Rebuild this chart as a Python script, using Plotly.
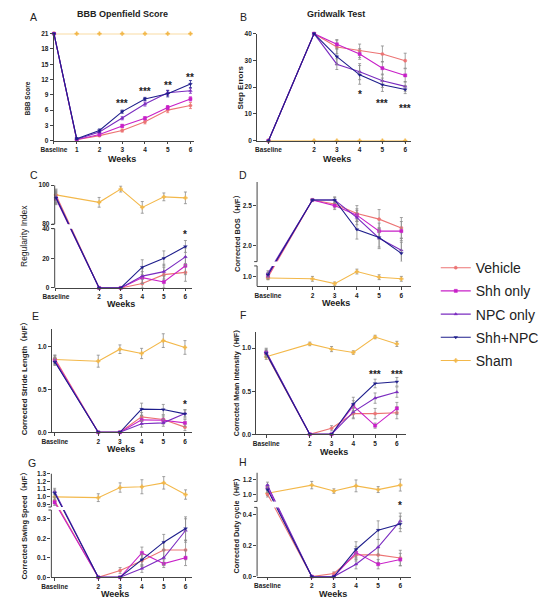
import plotly.graph_objects as go
import numpy as np

W, H = 550, 604

groups = ["Vehicle", "Shh only", "NPC only", "Shh+NPC", "Sham"]
colors = ["#EC7474", "#C820C8", "#7B2CC0", "#1E1E8C", "#F3B84A"]
symbols = ["circle", "square", "triangle-up", "triangle-down", "cross"]

weeks_A = [0, 1, 2, 3, 4, 5, 6]
ticks_A = ["Baseline", "1", "2", "3", "4", "5", "6"]
weeks = [0, 2, 3, 4, 5, 6]
ticks_w = ["Baseline", "2", "3", "4", "5", "6"]

# ---- A: BBB Openfield Score
A_mean = [
    [21, 0.2, 1.0, 2.0, 3.7, 6.0, 6.9],
    [21, 0.2, 1.2, 2.9, 4.4, 6.5, 8.2],
    [21, 0.3, 1.7, 4.4, 7.2, 9.4, 9.8],
    [21, 0.4, 2.0, 5.7, 8.2, 9.2, 11.1],
    [21, 21, 21, 21, 21, 21, 21],
]
A_err = [
    [0, 0.1, 0.2, 0.3, 0.4, 0.5, 0.6],
    [0, 0.1, 0.2, 0.3, 0.3, 0.4, 0.4],
    [0, 0.1, 0.2, 0.3, 0.4, 0.5, 0.5],
    [0, 0.2, 0.3, 0.3, 0.3, 0.6, 0.7],
    [0, 0, 0, 0, 0, 0, 0],
]
A_star_x = [3, 4, 5, 6]
A_star_y = [7.6, 10.1, 11.3, 12.8]
A_star_t = ["***", "***", "**", "**"]
A_yticks = [0, 3, 6, 9, 12, 15, 18, 21]

# ---- B: Gridwalk Test
B_mean = [
    [0, 40, 35.0, 33.6, 32.4, 29.9],
    [0, 40, 36.0, 32.4, 27.1, 24.4],
    [0, 40, 28.6, 25.8, 22.4, 20.3],
    [0, 40, 31.4, 24.6, 20.9, 19.1],
    [0, 0, 0, 0, 0, 0],
]
B_err = [
    [0, 0, 2.5, 2.5, 3.0, 2.8],
    [0, 0, 1.8, 2.0, 2.5, 2.5],
    [0, 0, 2.0, 3.0, 2.5, 1.8],
    [0, 0, 3.0, 3.5, 2.5, 1.5],
    [0, 0, 0, 0, 0, 0],
]
B_star_x = [4, 5, 6]
B_star_y = [18.1, 14.8, 12.9]
B_star_t = ["*", "***", "***"]
B_yticks = [0, 10, 20, 30, 40]

# ---- C: Regularity Index
C_mean = [
    [95, 0, 0, 3, 9, 10.5],
    [93, 0, 0, 7, 4, 15],
    [94, 0, 0, 8, 11, 21],
    [93.5, 0, 0, 14, 20, 28],
    [95, 91.2, 98, 88.6, 94, 93.5],
]
C_err = [
    [3, 0, 0, 3, 5, 6],
    [3, 0, 0, 4, 4, 6],
    [3, 0, 0, 5, 5, 6],
    [3, 0, 0, 5, 5, 4],
    [2.5, 2.5, 1.5, 3, 2, 3],
]
C_star_x = [6]
C_star_y = [37.7]
C_star_t = ["*"]
C_yticks = [0, 20, 40, 80, 100]

# ---- D: Corrected BOS
D_mean = [
    [0.99, 2.57, 2.52, 2.40, 2.33, 2.22],
    [1.01, 2.57, 2.50, 2.38, 2.18, 2.18],
    [1.04, 2.57, 2.57, 2.35, 2.09, 1.94],
    [1.02, 2.57, 2.57, 2.20, 2.10, 1.90],
    [0.98, 0.97, 0.91, 1.06, 0.99, 0.97],
]
D_err = [
    [0.03, 0.01, 0.05, 0.10, 0.12, 0.13],
    [0.03, 0.01, 0.05, 0.08, 0.10, 0.12],
    [0.03, 0.01, 0.04, 0.09, 0.13, 0.15],
    [0.03, 0.01, 0.03, 0.12, 0.12, 0.14],
    [0.02, 0.03, 0.02, 0.03, 0.03, 0.03],
]
D_yticks = [1.0, 2.0, 2.5]

# ---- E: Corrected Stride Length
E_mean = [
    [0.86, 0, 0, 0.18, 0.15, 0.06],
    [0.84, 0, 0, 0.145, 0.14, 0.11],
    [0.83, 0, 0, 0.10, 0.11, 0.22],
    [0.82, 0, 0, 0.27, 0.265, 0.215],
    [0.85, 0.83, 0.97, 0.92, 1.07, 0.99],
]
E_err = [
    [0.04, 0, 0, 0.05, 0.05, 0.04],
    [0.04, 0, 0, 0.05, 0.04, 0.04],
    [0.04, 0, 0, 0.04, 0.04, 0.04],
    [0.04, 0, 0, 0.07, 0.06, 0.05],
    [0.05, 0.07, 0.05, 0.06, 0.08, 0.08],
]
E_star_x = [6]
E_star_y = [0.346]
E_star_t = ["*"]
E_yticks = [0.0, 0.5, 1.0]

# ---- F: Corrected Mean Intensity
F_mean = [
    [0.93, 0, 0.07, 0.24, 0.24, 0.25],
    [0.95, 0, 0, 0.33, 0.10, 0.30],
    [0.96, 0, 0, 0.26, 0.42, 0.49],
    [0.94, 0, 0, 0.35, 0.59, 0.61],
    [0.90, 1.05, 0.99, 0.95, 1.13, 1.05],
]
F_err = [
    [0.04, 0, 0.03, 0.06, 0.06, 0.07],
    [0.04, 0, 0, 0.06, 0.03, 0.07],
    [0.04, 0, 0, 0.07, 0.06, 0.06],
    [0.04, 0, 0, 0.08, 0.05, 0.05],
    [0.03, 0.02, 0.03, 0.02, 0.02, 0.03],
]
F_star_x = [5, 6]
F_star_y = [0.72, 0.72]
F_star_t = ["***", "***"]
F_yticks = [0.0, 0.5, 1.0]

# ---- G: Corrected Swing Speed
G_mean = [
    [0.95, 0, 0.035, 0.085, 0.14, 0.14],
    [0.93, 0, 0, 0.125, 0.07, 0.10],
    [1.07, 0, 0, 0.045, 0.10, 0.24],
    [1.05, 0, 0, 0.09, 0.18, 0.25],
    [1.00, 0.99, 1.12, 1.13, 1.18, 1.03],
]
G_err = [
    [0.04, 0, 0.015, 0.03, 0.04, 0.05],
    [0.04, 0, 0, 0.03, 0.02, 0.04],
    [0.04, 0, 0, 0.02, 0.04, 0.06],
    [0.04, 0, 0, 0.03, 0.04, 0.06],
    [0.05, 0.05, 0.06, 0.09, 0.08, 0.06],
]
G_yticks = [0.0, 0.1, 0.2, 0.3, 0.9, 1.0, 1.1, 1.2, 1.3]

# ---- H: Corrected Duty cycle
H_mean = [
    [1.01, 0, 0.02, 0.14, 0.14, 0.12],
    [1.10, 0, 0, 0.155, 0.08, 0.11],
    [1.13, 0, 0, 0.08, 0.19, 0.36],
    [1.07, 0, 0, 0.175, 0.30, 0.34],
    [1.02, 1.13, 1.05, 1.12, 1.07, 1.13],
]
H_err = [
    [0.04, 0, 0.01, 0.04, 0.05, 0.05],
    [0.04, 0, 0, 0.04, 0.03, 0.04],
    [0.04, 0, 0, 0.03, 0.05, 0.05],
    [0.04, 0, 0, 0.05, 0.06, 0.05],
    [0.03, 0.05, 0.03, 0.08, 0.04, 0.08],
]
H_star_x = [6]
H_star_y = [0.47]
H_star_t = ["*"]
H_yticks = [0.0, 0.2, 0.4, 1.0, 1.2]

FONT = "Liberation Sans, Arial, Noto Sans CJK SC, sans-serif"
AXC = "#444444"
ERRC = "#8c8c8c"


def px_x(p):
    return p / W


def px_y(p):
    return 1 - p / H


def make_map(brk):
    if brk is None:
        return lambda v: np.asarray(v, float)
    (a, b), (c, d), L, G = brk
    mid = (b + c) / 2.0

    def f(v):
        v = np.asarray(v, float)
        lo = (v - a) / (b - a) * L
        hi = L + G + (v - c) / (d - c) * (1 - L - G)
        return np.where(v <= mid, lo, hi)
    return f


# layout spec per panel (positions in px, ranges, breaks)
panels = [
    dict(letter="A", x=weeks_A, xt=ticks_A, mean=A_mean, err=A_err, box=(41.7, 185, 30, 138.3),
         xr=[-0.01, 6.14], yr=[0, 21], brk=None, yt=A_yticks, fmt="{:.0f}",
         sx=A_star_x, sy=A_star_y, st=A_star_t, ecol=None,
         title="BBB Openfield Score", tpos=(112, 10),
         ytitle="BBB Score", ytpos=(15, 96), ytsize=6.5, ytbold=True, wpos=(112, 156.5), lpos=(21, 13)),
    dict(letter="B", x=weeks, xt=ticks_w, mean=B_mean, err=B_err, box=(250, 408, 30, 138.3),
         xr=[-0.5, 6.27], yr=[0, 40], brk=None, yt=B_yticks, fmt="{:.0f}",
         sx=B_star_x, sy=B_star_y, st=B_star_t, ecol=ERRC,
         title="Gridwalk Test", tpos=(331, 10),
         ytitle="Step Errors", ytpos=(233, 84), ytsize=8, ytbold=True, wpos=(332, 156.5), lpos=(236, 13)),
    dict(letter="C", x=weeks, xt=ticks_w, mean=C_mean, err=C_err, box=(42.7, 183, 183.3, 287.3),
         xr=[-0.06, 6.29], yr=[0, 1], brk=((0, 40), (80, 100), 0.577, 0.044), yt=C_yticks, fmt="{:.0f}",
         sx=C_star_x, sy=C_star_y, st=C_star_t, ecol=ERRC,
         title=None, tpos=None,
         ytitle="Regularity Index", ytpos=(12, 235), ytsize=8.5, ytbold=False, wpos=(111, 304), lpos=(21, 173)),
    dict(letter="D", x=weeks, xt=ticks_w, mean=D_mean, err=D_err, box=(250, 408, 180, 285.7),
         xr=[-0.49, 6.45], yr=[0, 1], brk=((0.876, 1.13), (1.797, 2.797), 0.196, 0.041), yt=D_yticks, fmt="{:.1f}",
         sx=[], sy=[], st=[], ecol=ERRC,
         title=None, tpos=None,
         ytitle="Corrected BOS（H/F）", ytpos=(230, 230), ytsize=7.5, ytbold=True, wpos=(331, 303), lpos=(236, 173)),
    dict(letter="E", x=weeks, xt=ticks_w, mean=E_mean, err=E_err, box=(40, 183, 329.3, 433.3),
         xr=[-0.13, 6.31], yr=[0, 1.2], brk=None, yt=E_yticks, fmt="{:.1f}",
         sx=E_star_x, sy=E_star_y, st=E_star_t, ecol=ERRC,
         title=None, tpos=None,
         ytitle="Corrected Stride Length（H/F）", ytpos=(12, 377), ytsize=7.8, ytbold=True, wpos=(111, 450), lpos=(23, 316)),
    dict(letter="F", x=weeks, xt=ticks_w, mean=F_mean, err=F_err, box=(249.3, 403, 331.7, 435.3),
         xr=[-0.45, 6.44], yr=[0, 1.19], brk=None, yt=F_yticks, fmt="{:.1f}",
         sx=F_star_x, sy=F_star_y, st=F_star_t, ecol=ERRC,
         title=None, tpos=None,
         ytitle="Corrected Mean Intensity（H/F）", ytpos=(229, 382), ytsize=7.1, ytbold=True, wpos=(329, 453), lpos=(236, 315)),
    dict(letter="G", x=weeks, xt=ticks_w, mean=G_mean, err=G_err, box=(39.3, 183, 475, 580),
         xr=[-0.15, 6.28], yr=[0, 1], brk=((0, 0.345), (0.87, 1.3), 0.648, 0.029), yt=G_yticks, fmt="{:.1f}",
         sx=[], sy=[], st=[], ecol=ERRC,
         title=None, tpos=None,
         ytitle="Corrected Swing Speed（H/F）", ytpos=(12, 526), ytsize=7.5, ytbold=True, wpos=(104, 597), lpos=(19, 464)),
    dict(letter="H", x=weeks, xt=ticks_w, mean=H_mean, err=H_err, box=(250, 408, 474, 579.3),
         xr=[-0.47, 6.50], yr=[0, 1], brk=((0, 0.447), (0.91, 1.30), 0.665, 0.057), yt=H_yticks, fmt="{:.1f}",
         sx=H_star_x, sy=H_star_y, st=H_star_t, ecol=ERRC,
         title=None, tpos=None,
         ytitle="Corrected Duty cycle（H/F）", ytpos=(229, 526), ytsize=7.3, ytbold=True, wpos=(328, 596.5), lpos=(236, 463)),
]

fig = go.Figure()
layout = dict(
    width=W, height=H, margin=dict(l=0, r=0, t=0, b=0),
    paper_bgcolor="white", plot_bgcolor="white",
    font=dict(family=FONT, color="#222222"),
    showlegend=True,
    legend=dict(x=433 / W, y=px_y(251), xanchor="left", yanchor="top",
                font=dict(size=14, family=FONT, color="#222222"),
                tracegroupgap=2, bgcolor="rgba(0,0,0,0)", itemclick=False),
)
annotations = []
shapes = []

draw_order = [4, 0, 1, 2, 3]

for i, p in enumerate(panels, start=1):
    xa = "x" if i == 1 else f"x{i}"
    ya = "y" if i == 1 else f"y{i}"
    f = make_map(p["brk"])
    x0, x1, yt_, yb_ = p["box"]
    for g in draw_order:
        m = np.asarray(p["mean"][g], float)
        e = np.asarray(p["err"][g], float)
        ym = f(m)
        up = f(m + e) - ym
        dn = ym - f(m - e)
        ec = p["ecol"] if p["ecol"] else colors[g]
        fig.add_trace(go.Scatter(
            x=p["x"], y=ym, mode="lines+markers", name=groups[g],
            legendgroup=groups[g], legendrank=g + 1, showlegend=(i == 1),
            line=dict(color=colors[g], width=1.1),
            marker=dict(symbol=symbols[g], size=3.2, color=colors[g],
                        line=dict(width=0.4, color=colors[g])),
            error_y=dict(type="data", symmetric=False, array=up, arrayminus=dn,
                         color=ec, thickness=0.8, width=1.5),
            cliponaxis=False, xaxis=xa, yaxis=ya, hoverinfo="skip"))
    # axes
    broken = p["brk"] is not None
    layout["xaxis" if i == 1 else f"xaxis{i}"] = dict(
        domain=[px_x(x0), px_x(x1)], range=p["xr"], anchor=ya,
        tickvals=p["x"], ticktext=p["xt"], showline=True, linecolor=AXC, linewidth=1,
        ticks="outside", ticklen=2.5, tickwidth=1, tickcolor=AXC,
        tickfont=dict(size=6.5, weight="bold", color="#222222"),
        showgrid=False, zeroline=False, fixedrange=True)
    tv = f(p["yt"]).tolist()
    layout["yaxis" if i == 1 else f"yaxis{i}"] = dict(
        domain=[px_y(yb_), px_y(yt_)], range=p["yr"], anchor=xa,
        tickvals=tv, ticktext=[p["fmt"].format(v) for v in p["yt"]],
        showline=not broken, linecolor=AXC, linewidth=1,
        ticks="outside", ticklen=3, tickwidth=1, tickcolor=AXC,
        tickfont=dict(size=6.5, weight="bold", color="#222222"),
        showgrid=False, zeroline=False, fixedrange=True)
    if broken:
        (a, b), (c, d), L, G = p["brk"]
        tl = 3.0 / (x1 - x0)
        shapes.append(dict(type="rect", xref=f"{xa} domain", yref=ya, x0=0, x1=1, y0=L, y1=L + G,
                           fillcolor="white", line=dict(width=0), layer="above"))
        for (s0, s1) in [(0, L), (L + G, 1)]:
            shapes.append(dict(type="line", xref=f"{xa} domain", yref=ya, x0=0, x1=0, y0=s0, y1=s1,
                               line=dict(color=AXC, width=1), layer="above"))
        for yy in [L, L + G]:
            shapes.append(dict(type="line", xref=f"{xa} domain", yref=ya, x0=-tl, x1=0, y0=yy, y1=yy,
                               line=dict(color=AXC, width=1), layer="above"))
    # significance stars
    for sx, sy, st in zip(p["sx"], f(p["sy"]).tolist() if len(p["sy"]) else [], p["st"]):
        annotations.append(dict(x=sx, y=sy, xref=xa, yref=ya, text=st, showarrow=False,
                                font=dict(size=10, weight="bold", color="#222222"),
                                xanchor="center", yanchor="middle", yshift=-2))
    # panel letter
    annotations.append(dict(x=px_x(p["lpos"][0]), y=px_y(p["lpos"][1]), xref="paper", yref="paper",
                            text=p["letter"], showarrow=False, font=dict(size=10.5, color="#222222"),
                            xanchor="center", yanchor="middle"))
    if p["title"]:
        annotations.append(dict(x=px_x(p["tpos"][0]), y=px_y(p["tpos"][1]), xref="paper", yref="paper",
                                text=p["title"], showarrow=False,
                                font=dict(size=9, weight="bold", color="#222222"),
                                xanchor="center", yanchor="middle"))
    annotations.append(dict(x=px_x(p["wpos"][0]), y=px_y(p["wpos"][1]), xref="paper", yref="paper",
                            text="Weeks", showarrow=False,
                            font=dict(size=9, weight="bold", color="#222222"),
                            xanchor="center", yanchor="middle"))
    annotations.append(dict(x=px_x(p["ytpos"][0]), y=px_y(p["ytpos"][1]), xref="paper", yref="paper",
                            text=p["ytitle"], showarrow=False, textangle=-90,
                            font=dict(size=p["ytsize"], weight="bold" if p["ytbold"] else "normal",
                                      color="#222222"),
                            xanchor="center", yanchor="middle"))

layout["annotations"] = annotations
layout["shapes"] = shapes
fig.update_layout(**layout)
fig.write_html("out.html", config={"displayModeBar": False},
               post_script="document.body.style.margin='0px';")
